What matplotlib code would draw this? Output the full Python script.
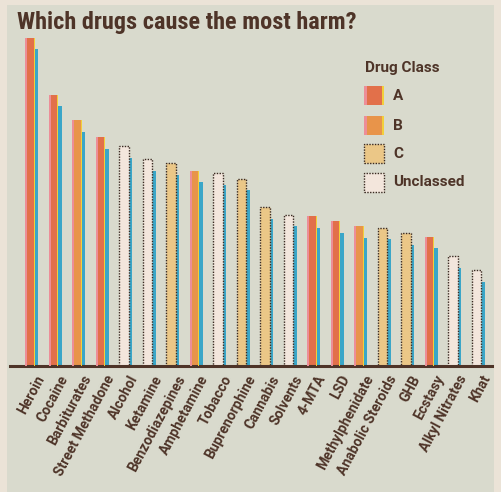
import numpy as np
import matplotlib.pyplot as plt
from matplotlib.patches import Rectangle

# Dane
drugs = ["Heroin", "Cocaine", "Barbiturates", "Street Methadone", "Alcohol",
         "Ketamine", "Benzodiazepines", "Amphetamine", "Tobacco", "Buprenorphine",
         "Cannabis", "Solvents", "4-MTA", "LSD", "Methylphenidate",
         "Anabolic Steroids", "GHB", "Ecstasy", "Alkyl Nitrates", "Khat"]
harm = [2.54, 2.10, 1.90, 1.77, 1.70, 1.60, 1.57, 1.51, 1.49, 1.45,
        1.23, 1.17, 1.16, 1.12, 1.08, 1.07, 1.03, 1.00, 0.85, 0.74]
drug_class = ["A", "A", "B", "A", "Unclassed", "Unclassed", "C", "B", "Unclassed", "C",
              "C", "Unclassed", "A", "A", "B", "C", "C", "A", "Unclassed", "Unclassed"]
classes = ["A", "B", "C", "Unclassed"]

# Styl
paper = "#d9dacd"
ink = "#4e3428"
colors = {"A": "#e2704a", "B": "#e8944a", "C": "#ebc787", "Unclassed": "#f3e6dc"}
pink = "#ec8e98"
yellow = "#f2cf3a"
blue = "#3aa6c8"
shadow_drop = 0.09
w = 0.42
cond = ["Roboto Condensed", "Oswald", "Liberation Sans Narrow", "DejaVu Sans"]
sans = ["Roboto", "DejaVu Sans"]

fig = plt.figure(figsize=(5.02, 4.92), dpi=100)
fig.patch.set_facecolor("#ebe3d7")
fig.patches.append(Rectangle((7 / 502, 0), 487 / 502, 487 / 492,
                             transform=fig.transFigure, facecolor=paper,
                             edgecolor="none", zorder=-5))

ax = fig.add_axes([10 / 502, 126 / 492, 482 / 502, 336 / 492])
ax.set_facecolor("none")
ax.set_xlim(-0.85, 19.66)
ax.set_ylim(0, 2.60)

x = np.arange(len(drugs))
for i, (h, c) in enumerate(zip(harm, drug_class)):
    # niebieski "cien"
    ax.bar(i + 0.28, h - shadow_drop, width=0.14, color=blue, zorder=1)
    if c in ("A", "B"):
        ax.bar(i, h, width=w, color=colors[c], zorder=2)
        ax.bar(i - w / 2 + 0.05, h, width=0.10, color=pink, zorder=3)
        ax.bar(i + w / 2 - 0.03, h, width=0.06, color=yellow, zorder=3)
    else:
        ax.bar(i, h, width=w, color=colors[c], edgecolor="#3a2a22",
               linestyle=(0, (1, 1)), linewidth=1.0, zorder=2)

for s in ["top", "right", "left"]:
    ax.spines[s].set_visible(False)
ax.spines["bottom"].set_color(ink)
ax.spines["bottom"].set_linewidth(2.2)
ax.set_yticks([])
ax.set_xticks(x + 0.2)
ax.set_xticklabels(drugs, rotation=62, ha="right", va="top",
                   rotation_mode="anchor", fontsize=10, fontweight="bold",
                   color=ink, family=sans)
ax.tick_params(axis="x", length=0, pad=5)

fig.text(17 / 502, 1 - 22 / 492, "Which drugs cause the most harm?",
         fontsize=17.5, fontweight="black", color=ink, va="center", family=cond)

# Legenda
fig.text(365 / 502, 1 - 68 / 492, "Drug Class", fontsize=11, fontweight="bold",
         color=ink, va="center", family=sans)
leg_tops = [86, 116, 144, 173]
for c, top in zip(classes, leg_tops):
    y0 = 1 - (top + 19) / 492
    if c in ("A", "B"):
        fig.patches.append(Rectangle((364 / 502, y0), 20 / 502, 19 / 492,
                                     transform=fig.transFigure, facecolor=colors[c],
                                     edgecolor="none", zorder=3))
        fig.patches.append(Rectangle((364 / 502, y0), 3 / 502, 19 / 492,
                                     transform=fig.transFigure, facecolor=pink,
                                     edgecolor="none", zorder=4))
        fig.patches.append(Rectangle((382 / 502, y0), 2 / 502, 19 / 492,
                                     transform=fig.transFigure, facecolor=yellow,
                                     edgecolor="none", zorder=4))
    else:
        fig.patches.append(Rectangle((364 / 502, y0), 20 / 502, 19 / 492,
                                     transform=fig.transFigure, facecolor=colors[c],
                                     edgecolor="#3a2a22", linestyle=(0, (1, 1)),
                                     linewidth=1.0, zorder=3))
    fig.text(393 / 502, y0 + 9.5 / 492, c, fontsize=11, fontweight="bold",
             color=ink, va="center", family=sans)

fig.savefig("out.png", dpi=100, facecolor=fig.get_facecolor())
